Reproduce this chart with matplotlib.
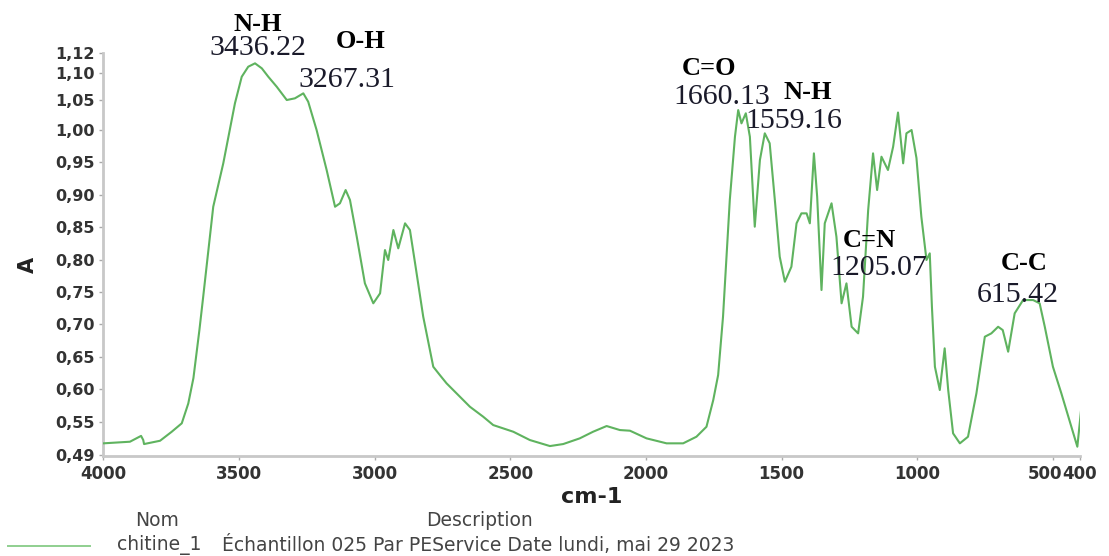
import numpy as np
import matplotlib
matplotlib.use("Agg")
import matplotlib.pyplot as plt
from matplotlib.lines import Line2D
from matplotlib.transforms import ScaledTranslation

# FTIR spectrum of chitin
wavenumber = [4000, 3902, 3861, 3853, 3850, 3791, 3748, 3711, 3687, 3668, 3646, 3632,
              3595, 3558, 3515, 3490, 3466, 3441, 3416, 3392, 3361, 3324, 3294, 3263,
              3245, 3214, 3177, 3146, 3128, 3107, 3091, 3066, 3036, 3005, 2980, 2962,
              2950, 2931, 2913, 2888, 2870, 2851, 2821, 2784, 2760, 2735, 2686, 2649, 2600,
              2563, 2526, 2489, 2428, 2354, 2305, 2244, 2195, 2145, 2096, 2059, 1998,
              1924, 1863, 1814, 1777, 1752, 1734, 1716, 1691, 1672, 1660, 1648, 1632,
              1617, 1599, 1580, 1562, 1544, 1525, 1507, 1488, 1464, 1445, 1427, 1408,
              1396, 1381, 1369, 1353, 1341, 1316, 1298, 1279, 1261, 1242, 1218, 1200,
              1181, 1163, 1148, 1132, 1108, 1089, 1071, 1052, 1040, 1021, 1003, 985,
              966, 954, 946, 935, 917, 899, 886, 868, 843, 813, 782, 751,
              727, 702, 685, 665, 641, 610, 573, 549, 530, 500, 469, 432,
              410, 395]
absorbance = [0.5165, 0.519, 0.528, 0.5216, 0.5154, 0.5205, 0.5344, 0.5474, 0.578, 0.6173, 0.6913, 0.7427,
              0.8816, 0.9486, 1.0412, 1.0822, 1.0977, 1.1029, 1.0952, 1.0822, 1.0668, 1.0463, 1.0489, 1.0566,
              1.0437, 1.0, 0.9383, 0.8816, 0.8869, 0.9074, 0.892, 0.8353, 0.7634, 0.7326, 0.748, 0.8148,
              0.7994, 0.8457, 0.8174, 0.856, 0.8457, 0.7943, 0.7119, 0.6347, 0.622, 0.6091, 0.5884, 0.573, 0.5576,
              0.5447, 0.5396, 0.5344, 0.5216, 0.5123, 0.5154, 0.5242, 0.5344, 0.5432, 0.537, 0.536, 0.5242,
              0.5165, 0.5165, 0.5267, 0.5421, 0.5833, 0.6219, 0.7119, 0.892, 0.9896, 1.0308, 1.0103, 1.0258,
              0.9896, 0.8508, 0.9537, 0.9949, 0.9795, 0.892, 0.8045, 0.7659, 0.789, 0.856, 0.8714, 0.8714,
              0.856, 0.964, 0.8971, 0.7531, 0.856, 0.8869, 0.8353, 0.7326, 0.7634, 0.6964, 0.6862, 0.7427,
              0.8765, 0.964, 0.9074, 0.9588, 0.9383, 0.9742, 1.027, 0.9486, 0.9949, 1.0, 0.9568, 0.8662,
              0.7994, 0.8097, 0.7273, 0.6347, 0.5988, 0.6631, 0.5988, 0.5319, 0.5165, 0.5267, 0.5937, 0.681,
              0.6862, 0.6964, 0.6913, 0.6579, 0.7171, 0.7376, 0.7376, 0.7326, 0.6964, 0.6347, 0.5937, 0.5421,
              0.5113, 0.573]

# peak annotations
groups = ['N-H', 'O-H', 'C=O', 'N-H', 'C=N', 'C-C']
peaks = ['3436.22', '3267.31', '1660.13', '1559.16', '1205.07', '615.42']
group_pos = [(3430, 1.1636), (3050, 1.1366), (1768, 1.0957), (1403, 1.0586), (1175, 0.8302), (607, 0.7947)]
peak_pos = [(3430, 1.1265), (3102, 1.0771), (1720, 1.0509), (1455, 1.0139), (1142, 0.787), (630, 0.7454)]

xticks = [4000, 3500, 3000, 2500, 2000, 1500, 1000, 500, 400]
yticks = [0.4985, 0.55, 0.60, 0.65, 0.70, 0.75, 0.80, 0.85, 0.90, 0.95, 1.00, 1.046, 1.0886, 1.119]
ytick_labels = ['0,49', '0,55', '0,60', '0,65', '0,70', '0,75', '0,80', '0,85', '0,90', '0,95',
                '1,00', '1,05', '1,10', '1,12']

green = '#5fb35f'
grey = '#c8c8c8'

fig = plt.figure(figsize=(11.09, 5.56), dpi=100)
ax = fig.add_axes([0.0932, 0.1799, 0.8807, 0.7253])

ax.plot(wavenumber, absorbance, color=green, lw=1.5, zorder=3)
ax.set_xlim(4000, 400)
ax.set_ylim(0.497, 1.1193)

for sp in ['top', 'right']:
    ax.spines[sp].set_visible(False)
for sp in ['left', 'bottom']:
    ax.spines[sp].set_color(grey)
    ax.spines[sp].set_linewidth(2)

ax.set_xticks(xticks)
ax.set_xticklabels([str(t) for t in xticks])
ax.set_yticks(yticks)
ax.set_yticklabels(ytick_labels)
ax.tick_params(axis='both', colors='#aaaaaa', length=3, width=1, labelcolor='#333333')
for lbl in ax.get_xticklabels():
    lbl.set_fontsize(12)
    lbl.set_fontweight('bold')
for lbl in ax.get_yticklabels():
    lbl.set_fontsize(11.5)
    lbl.set_fontweight('bold')
# 500 and 400 labels run into each other, nudge 500 a bit left
lab500 = ax.get_xticklabels()[7]
lab500.set_transform(lab500.get_transform() + ScaledTranslation(-6 / 72, 0, fig.dpi_scale_trans))

ax.set_xlabel('cm-1', fontsize=16, fontweight='bold', color='#222222')
ax.xaxis.set_label_coords(0.5004, -0.1017)
ax.xaxis.label.set_va('center')
ax.set_ylabel('A', fontsize=15, fontweight='bold', color='#222222')
ax.yaxis.set_label_coords(-0.0771, 0.4736)
ax.yaxis.label.set_va('center')

for g, (gx, gy) in zip(groups, group_pos):
    ax.text(gx, gy, g, fontsize=19, fontweight='bold', family='Liberation Serif',
            ha='center', va='center', color='black', clip_on=False)
for p, (px, py) in zip(peaks, peak_pos):
    ax.text(px, py, p, fontsize=21.5, family='Liberation Serif',
            ha='center', va='center', color='#1a1a2a', clip_on=False)

# sample table under the plot
fig.add_artist(Line2D([8 / 1109, 90 / 1109], [1 - 546 / 556] * 2, color='#8fcf8f', lw=1.4))
fig.text(157 / 1109, 1 - 520 / 556, 'Nom', fontsize=13.5, color='#444444', ha='center', va='center')
fig.text(480 / 1109, 1 - 520 / 556, 'Description', fontsize=13.5, color='#444444', ha='center', va='center')
fig.text(117 / 1109, 1 - 545 / 556, 'chitine_1', fontsize=13.5, color='#444444', ha='left', va='center')
fig.text(222 / 1109, 1 - 545 / 556, 'Échantillon 025 Par PEService Date lundi, mai 29 2023',
         fontsize=13.5, color='#444444', ha='left', va='center')

fig.savefig('out.png', dpi=100)
